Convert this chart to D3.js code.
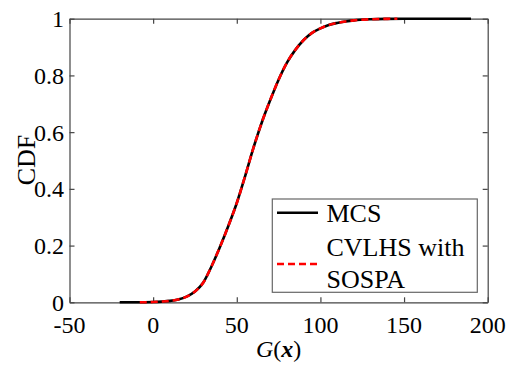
<!DOCTYPE html>
<html>
<head>
<meta charset="utf-8">
<script src="https://cdn.jsdelivr.net/npm/d3@7"></script>
<style>
  body { margin: 0; background: white; }
</style>
</head>
<body>
<svg id="chart"></svg>
<script>
// values
var gValues = [-20, -10, -5, 0, 5, 10, 15, 20, 25, 30, 35, 40, 45, 50, 55, 60, 65, 70, 75, 80,
  85, 90, 95, 100, 105, 110, 115, 120, 130, 140, 150, 170, 190];
var cdfMcs = [0, 0, 0.0003, 0.001, 0.0025, 0.005, 0.01, 0.02, 0.038, 0.07, 0.128, 0.196, 0.27,
  0.35, 0.445, 0.545, 0.635, 0.713, 0.785, 0.845, 0.89, 0.925, 0.95, 0.966, 0.978, 0.985,
  0.99, 0.994, 0.998, 0.9995, 1, 1, 1];
// CVLHS with SOSPA covers a shorter range of G(x)
var sospaRange = [-8, 146];
var xTicks = [-50, 0, 50, 100, 150, 200];
var yTicks = [0, 0.2, 0.4, 0.6, 0.8, 1];
var legendLabels = [['MCS'], ['CVLHS with', 'SOSPA']];

var width = 512, height = 370;
var serif = "'Liberation Serif'";
var svg = d3.select('svg#chart')
  .attr('width', width)
  .attr('height', height)
  .attr('font-family', serif);

var x = d3.scaleLinear().domain([-50, 200]).range([69.5, 487.7]);
var y = d3.scaleLinear().domain([0, 1]).range([302.3, 18.7]);

var mcs = gValues.map(function (g, i) { return { g: g, p: cdfMcs[i] }; });
var sospa = mcs.filter(function (d) { return d.g >= 0 && d.g <= 140; });
// end points of the shorter series
sospa.unshift({ g: sospaRange[0], p: 0.0001 });
sospa.push({ g: sospaRange[1], p: 0.9998 });

var line = d3.line()
  .x(function (d) { return x(d.g); })
  .y(function (d) { return y(d.p); })
  .curve(d3.curveMonotoneX);

var axisColor = '#444';

// axes, MATLAB box style with ticks inside, labels drawn by hand below
var axBottom = svg.append('g')
  .attr('transform', 'translate(0,' + y(0) + ')')
  .call(d3.axisBottom(x).tickValues(xTicks).tickSizeInner(-5).tickSizeOuter(0).tickFormat(''));
var axTop = svg.append('g')
  .attr('transform', 'translate(0,' + y(1) + ')')
  .call(d3.axisTop(x).tickValues(xTicks).tickSizeInner(-5).tickSizeOuter(0).tickFormat(''));
var axLeft = svg.append('g')
  .attr('transform', 'translate(' + x(-50) + ',0)')
  .call(d3.axisLeft(y).tickValues(yTicks).tickSizeInner(-5).tickSizeOuter(0).tickFormat(''));
var axRight = svg.append('g')
  .attr('transform', 'translate(' + x(200) + ',0)')
  .call(d3.axisRight(y).tickValues(yTicks).tickSizeInner(-5).tickSizeOuter(0).tickFormat(''));

[axBottom, axTop, axLeft, axRight].forEach(function (a) {
  a.selectAll('path, line').attr('stroke', axisColor).attr('stroke-width', 1.2);
  a.selectAll('text').remove();
});

function serifText(sel, size) {
  return sel.append('text')
    .attr('font-family', serif)
    .attr('font-size', size)
    .attr('fill', 'black')
    .style('font-family', serif);
}

xTicks.forEach(function (t) {
  serifText(svg, 24)
    .attr('transform', 'translate(' + x(t) + ',333)')
    .attr('text-anchor', 'middle')
    .append('tspan').text(String(t));
});
yTicks.forEach(function (t) {
  serifText(svg, 24)
    .attr('transform', 'translate(64,' + (y(t) + 8.5) + ')')
    .attr('text-anchor', 'end')
    .append('tspan').text(String(t));
});

// curves
svg.append('path')
  .datum(mcs)
  .attr('d', line)
  .attr('fill', 'none')
  .attr('stroke', 'black')
  .attr('stroke-width', 2.6);

svg.append('path')
  .datum(sospa)
  .attr('d', line)
  .attr('fill', 'none')
  .attr('stroke', '#ff0000')
  .attr('stroke-width', 2.6)
  .attr('stroke-dasharray', '7,4');

// axis titles
serifText(svg, 26)
  .attr('transform', 'translate(35,160) rotate(-90)')
  .attr('text-anchor', 'middle')
  .text('CDF');

var xTitle = serifText(svg, 24)
  .attr('x', x(75))
  .attr('y', 357)
  .attr('text-anchor', 'middle');
xTitle.append('tspan').style('font-style', 'italic').text('G');
xTitle.append('tspan').text('(');
xTitle.append('tspan').style('font-style', 'italic').style('font-weight', 'bold').text('x');
xTitle.append('tspan').text(')');

// legend
var legend = svg.append('g');
legend.append('rect')
  .attr('x', 272.3)
  .attr('y', 199)
  .attr('width', 205)
  .attr('height', 93.3)
  .attr('fill', 'white')
  .attr('stroke', '#666')
  .attr('stroke-width', 1.2);

legend.append('line')
  .attr('x1', 277).attr('x2', 318)
  .attr('y1', 212.7).attr('y2', 212.7)
  .attr('stroke', 'black')
  .attr('stroke-width', 2.6);
legend.append('line')
  .attr('x1', 277).attr('x2', 318)
  .attr('y1', 264).attr('y2', 264)
  .attr('stroke', '#ff0000')
  .attr('stroke-width', 2.6)
  .attr('stroke-dasharray', '7,4');

var baselines = [[221.7], [255.7, 287.7]];
legendLabels.forEach(function (lines, i) {
  lines.forEach(function (t, j) {
    serifText(svg, 26)
      .attr('transform', 'translate(326.5,' + baselines[i][j] + ')')
      .append('tspan').text(t);
  });
});
</script>
</body>
</html>
